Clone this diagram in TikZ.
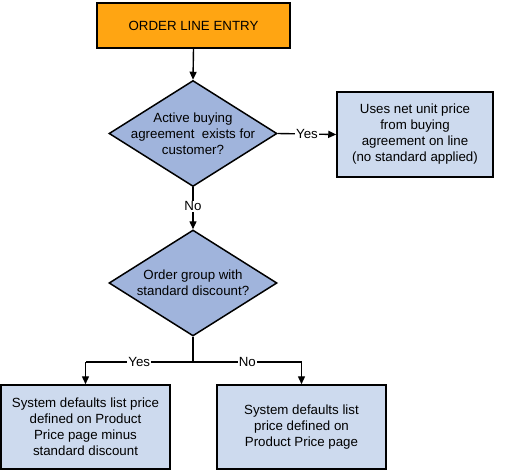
\documentclass[tikz,border=0pt]{standalone}
\usepackage{fontspec}
\setmainfont{Liberation Sans}
\usetikzlibrary{shapes.geometric,arrows.meta}
\definecolor{orangefill}{RGB}{255,165,18}
\definecolor{diafill}{RGB}{160,180,220}
\definecolor{boxfill}{RGB}{205,218,238}
\tikzset{
  lbl/.style={font=\fontsize{13.3}{16}\selectfont, align=center},
  startbox/.style={draw=black, line width=1.5pt, fill=orangefill, minimum width=193pt, minimum height=45pt, inner sep=0pt, lbl},
  infobox/.style={draw=black, line width=1.5pt, fill=boxfill, inner sep=0pt, lbl},
  decision/.style={draw=black, line width=1.5pt, fill=diafill, diamond, inner sep=0pt, minimum width=168pt, minimum height=106pt},
  conn/.style={line width=1.4pt, -{Triangle[width=7pt,length=8pt]}},
  plain/.style={line width=1.4pt},
  ctext/.style={fill=white, inner sep=1pt, lbl},
}
\begin{document}
\begin{tikzpicture}[x=1pt,y=-1pt]
\useasboundingbox (0,0) rectangle (507,471);
\node[startbox] (order) at (193.5,25.5) {ORDER LINE ENTRY};
\node[decision, label={[lbl]center:Active buying\\agreement\ \ exists for\\customer?}] (d1) at (193,133.5) {};
\node[infobox, minimum width=156pt, minimum height=85pt] (r1) at (415,134.5) {Uses net unit price\\from buying\\agreement on line\\(no standard applied)};
\node[decision, label={[lbl]center:Order group with\\standard discount?}] (d2) at (193,283) {};
\node[infobox, minimum width=169pt, minimum height=84pt] (bl) at (85.5,427) {System defaults list price\\defined on Product\\Price page minus\\standard discount};
\node[infobox, minimum width=169pt, minimum height=84pt] (br) at (301.5,427) {System defaults list\\price defined on\\Product Price page};
\coordinate (j) at (193,362);
\coordinate (jl) at (bl.north |- j);
\coordinate (jr) at (br.north |- j);
\draw[conn] (order.south) -- (d1.north);
\draw[conn] (d1.east) -- node[ctext] (yes1) {Yes} (r1.west);
\draw[conn] (d1.south) -- node[ctext, pos=0.45] (no1) {No} (d2.north);
\draw[plain] (d2.south) -- (j);
\draw[plain] (j) -- node[ctext, pos=0.5] (yes2) {Yes} (jl);
\draw[conn] (jl) -- (bl.north);
\draw[plain] (j) -- node[ctext, pos=0.5] (no2) {No} (jr);
\draw[conn] (jr) -- (br.north);
\end{tikzpicture}
\end{document}
